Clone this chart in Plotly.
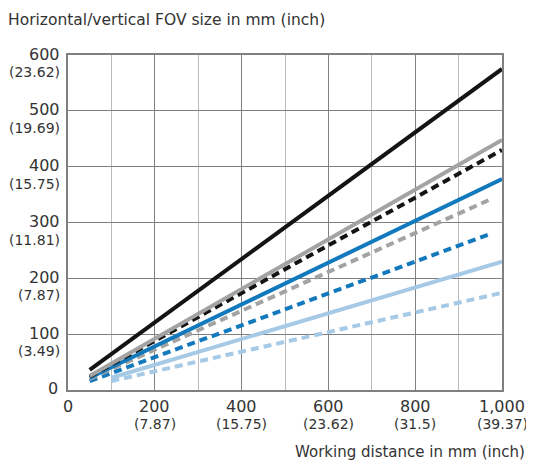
import plotly.graph_objects as go

# Data: start and end points of each straight line (working distance mm, FOV mm)
black_x = [50, 1000]
black_y = [36, 575]
gray_x = [50, 1000]
gray_y = [25, 448]
black_dash_x = [50, 1000]
black_dash_y = [24, 430]
blue_x = [50, 1000]
blue_y = [22, 378]
gray_dash_x = [50, 975]
gray_dash_y = [20, 342]
blue_dash_x = [50, 975]
blue_dash_y = [16, 280]
lblue_x = [100, 1000]
lblue_y = [22, 230]
lblue_dash_x = [100, 1000]
lblue_dash_y = [16, 174]

x_ticks = [200, 400, 600, 800, 1000]
x_tick_mm = ["200", "400", "600", "800", "1,000"]
x_tick_in = ["(7.87)", "(15.75)", "(23.62)", "(31.5)", "(39.37)"]
y_ticks = [100, 200, 300, 400, 500, 600]
y_tick_mm = ["100", "200", "300", "400", "500", "600"]
y_tick_in = ["(3.49)", "(7.87)", "(11.81)", "(15.75)", "(19.69)", "(23.62)"]

BLACK = "#141414"
GRAY = "#a3a3a3"
BLUE = "#1379bd"
LBLUE = "#a6c9e6"
FONT = "DejaVu Sans"
TXT = "#333333"

series = [
    (lblue_dash_x, lblue_dash_y, LBLUE, "8px,5px"),
    (lblue_x, lblue_y, LBLUE, "solid"),
    (blue_dash_x, blue_dash_y, BLUE, "8px,5px"),
    (gray_dash_x, gray_dash_y, GRAY, "8px,5px"),
    (blue_x, blue_y, BLUE, "solid"),
    (black_dash_x, black_dash_y, BLACK, "8px,5px"),
    (gray_x, gray_y, GRAY, "solid"),
    (black_x, black_y, BLACK, "solid"),
]

fig = go.Figure()
for xs, ys, col, dash in series:
    fig.add_trace(go.Scatter(x=xs, y=ys, mode="lines",
                             line=dict(color=col, width=4, dash=dash),
                             showlegend=False, hoverinfo="skip"))

BIG = 16
SMALL = 14
ann = []
for v, a, b in zip(y_ticks, y_tick_mm, y_tick_in):
    ann.append(dict(x=0, y=v, xref="paper", yref="y", text=a, showarrow=False,
                    xanchor="right", yanchor="middle", xshift=-6, yshift=1,
                    font=dict(family=FONT, size=BIG, color=TXT)))
    ann.append(dict(x=0, y=v, xref="paper", yref="y", text=b, showarrow=False,
                    xanchor="right", yanchor="middle", xshift=-6, yshift=-17,
                    font=dict(family=FONT, size=SMALL, color=TXT)))
ann.append(dict(x=0, y=0, xref="paper", yref="y", text="0", showarrow=False,
                xanchor="right", yanchor="middle", xshift=-8, yshift=2,
                font=dict(family=FONT, size=BIG, color=TXT)))
ann.append(dict(x=0, y=0, xref="x", yref="paper", text="0", showarrow=False,
                xanchor="center", yanchor="middle", yshift=-16,
                font=dict(family=FONT, size=BIG, color=TXT)))
for v, a, b in zip(x_ticks, x_tick_mm, x_tick_in):
    ann.append(dict(x=v, y=0, xref="x", yref="paper", text=a, showarrow=False,
                    xanchor="center", yanchor="middle", yshift=-16,
                    font=dict(family=FONT, size=BIG, color=TXT)))
    ann.append(dict(x=v, y=0, xref="x", yref="paper", text=b, showarrow=False,
                    xanchor="center", yanchor="middle", yshift=-34,
                    font=dict(family=FONT, size=SMALL, color=TXT)))
ann.append(dict(x=1.057, y=0, xref="paper", yref="paper",
                text="Working distance in mm (inch)", showarrow=False,
                xanchor="right", yanchor="middle", yshift=-62,
                font=dict(family=FONT, size=15, color=TXT)))

fig.update_layout(
    width=526, height=456,
    margin=dict(l=60, r=32, t=47, b=74),
    paper_bgcolor="white", plot_bgcolor="white",
    annotations=ann,
    title=dict(text="Horizontal/vertical FOV size in mm (inch)",
               x=0.0, xanchor="left", y=1 - 12 / 456, yanchor="middle",
               font=dict(family=FONT, size=15.5, color=TXT)),
    xaxis=dict(range=[0, 1000], dtick=200, tick0=0, showticklabels=False,
               showgrid=True, gridcolor="#808080", gridwidth=1.3,
               minor=dict(dtick=100, showgrid=True, gridcolor="#bcbcbc", gridwidth=1.3),
               showline=True, linecolor="#808080", linewidth=1.5, mirror=True,
               zeroline=False, ticks=""),
    yaxis=dict(range=[0, 600], dtick=100, tick0=0, showticklabels=False,
               showgrid=True, gridcolor="#808080", gridwidth=1.3,
               showline=True, linecolor="#808080", linewidth=1.5, mirror=True,
               zeroline=False, ticks=""),
)

fig.write_html("out.html")
